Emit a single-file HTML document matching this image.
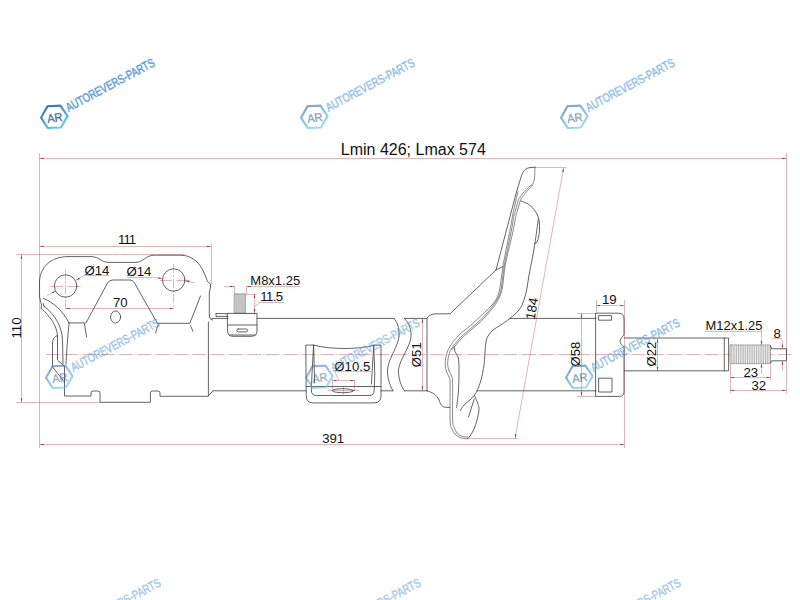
<!DOCTYPE html>
<html><head><meta charset="utf-8"><title>Shock absorber drawing</title>
<style>
html,body{margin:0;padding:0;background:#fff;}
body{width:800px;height:600px;overflow:hidden;}
svg{display:block;}
.red line{stroke:#c4606a;stroke-width:0.48;fill:none;}
.red .ah{fill:#a23848;stroke:none;}
.blk path,.blk circle,.blk ellipse,.blk rect{stroke:#3c3c3c;stroke-width:0.8;fill:none;stroke-linejoin:round;stroke-linecap:round;}
.blk .hatch{fill:#c4c4c4;stroke:#777;stroke-width:0.6;}
.blk .hatch2{fill:url(#thr);stroke:#666;stroke-width:0.5;}
.txt text{font-family:"Liberation Sans",sans-serif;fill:#111;}
.wm text{font-family:"Liberation Sans",sans-serif;}
.wm .hex{fill:none;stroke:url(#hg);stroke-width:2.1;stroke-linejoin:round;}
.wm .ar{fill:#3f6f98;stroke:#3f6f98;stroke-width:0.3;}
.wm .wt{fill:#5f9fdc;stroke:#5f9fdc;stroke-width:0.5;}
</style></head>
<body>
<svg width="800" height="600" viewBox="0 0 800 600">
<defs>
<pattern id="thr" width="1.8" height="4" patternUnits="userSpaceOnUse"><rect width="1.8" height="4" fill="#f4f4f4"/><rect width="0.8" height="4" fill="#a8a8a8"/></pattern>
<linearGradient id="hg" x1="0" y1="0" x2="0.6" y2="1"><stop offset="0" stop-color="#3c5f9c"/><stop offset="0.55" stop-color="#4a9fd6"/><stop offset="1" stop-color="#63c8ee"/></linearGradient>
</defs>
<rect width="800" height="600" fill="#fff"/>
<g class="red">
<line x1="39.5" y1="153" x2="39.5" y2="448"/>
<line x1="786.5" y1="153" x2="786.5" y2="393"/>
<line x1="39.5" y1="158.5" x2="786.4" y2="158.5"/>
<polygon class="ah" points="39.50,158.50 43.50,157.65 43.50,159.35"/>
<polygon class="ah" points="786.40,158.50 782.40,159.35 782.40,157.65"/>
<line x1="39.5" y1="444.5" x2="624.5" y2="444.5"/>
<polygon class="ah" points="39.50,444.50 43.50,443.65 43.50,445.35"/>
<polygon class="ah" points="624.50,444.50 620.50,445.35 620.50,443.65"/>
<line x1="624.5" y1="300" x2="624.5" y2="448"/>
<line x1="46" y1="354.5" x2="791.5" y2="354.5" stroke-dasharray="13.7 2 0.8 1.8"/>
<line x1="16" y1="254.5" x2="185" y2="254.5"/>
<line x1="16" y1="402.5" x2="100" y2="402.5"/>
<line x1="21.5" y1="254.4" x2="21.5" y2="402"/>
<polygon class="ah" points="21.50,254.40 22.35,258.40 20.65,258.40"/>
<polygon class="ah" points="21.50,402.20 20.65,398.20 22.35,398.20"/>
<line x1="39.5" y1="246.5" x2="211" y2="246.5"/>
<polygon class="ah" points="39.50,246.50 43.50,245.65 43.50,247.35"/>
<polygon class="ah" points="211.00,246.50 207.00,247.35 207.00,245.65"/>
<line x1="211.5" y1="243.5" x2="211.5" y2="284.5"/>
<line x1="65.5" y1="270" x2="65.5" y2="309" stroke-dasharray="9 2 2 2"/>
<line x1="50" y1="286.5" x2="82" y2="286.5" stroke-dasharray="13 4.5 13 2"/>
<line x1="173.5" y1="264" x2="173.5" y2="309" stroke-dasharray="9 2 2 2"/>
<line x1="160" y1="280.5" x2="190" y2="280.5" stroke-dasharray="12 4.5 13 2"/>
<line x1="65.6" y1="308.5" x2="173.7" y2="308.5"/>
<polygon class="ah" points="65.60,308.50 69.60,307.65 69.60,309.35"/>
<polygon class="ah" points="173.70,308.50 169.70,309.35 169.70,307.65"/>
<line x1="85" y1="275.5" x2="109" y2="275.5"/>
<line x1="85" y1="275.2" x2="76" y2="280.2"/>
<polygon class="ah" points="76.00,280.20 79.09,277.52 79.91,279.00"/>
<line x1="47" y1="295.5" x2="56" y2="291"/>
<polygon class="ah" points="56.00,291.00 52.82,293.57 52.05,292.06"/>
<line x1="127" y1="277.5" x2="152" y2="277.5"/>
<line x1="152" y1="277" x2="162.3" y2="278.6"/>
<polygon class="ah" points="162.30,278.60 158.22,278.81 158.48,277.13"/>
<line x1="195" y1="282.6" x2="185.3" y2="281"/>
<polygon class="ah" points="185.30,281.00 189.38,280.79 189.12,282.47"/>
<line x1="234.5" y1="285.5" x2="234.5" y2="294"/>
<line x1="246.5" y1="285.5" x2="246.5" y2="294"/>
<line x1="224" y1="286.5" x2="234" y2="286.5"/>
<polygon class="ah" points="234.00,286.50 230.00,287.35 230.00,285.65"/>
<line x1="246.6" y1="286.5" x2="300" y2="286.5"/>
<polygon class="ah" points="246.60,286.50 250.60,285.65 250.60,287.35"/>
<line x1="245" y1="294.5" x2="256.5" y2="294.5"/>
<line x1="245" y1="313.5" x2="256.5" y2="313.5"/>
<line x1="254.5" y1="294" x2="254.5" y2="313"/>
<polygon class="ah" points="254.50,294.00 255.35,298.00 253.65,298.00"/>
<polygon class="ah" points="254.50,313.00 253.65,309.00 255.35,309.00"/>
<line x1="254.4" y1="307" x2="260" y2="302.6"/>
<line x1="260" y1="302.5" x2="284" y2="302.5"/>
<line x1="335" y1="371.5" x2="371" y2="371.5"/>
<line x1="335" y1="371.8" x2="338.6" y2="380.3"/>
<line x1="332.4" y1="380.5" x2="354.4" y2="380.5"/>
<polygon class="ah" points="332.40,380.50 336.40,379.65 336.40,381.35"/>
<polygon class="ah" points="354.40,380.50 350.40,381.35 350.40,379.65"/>
<line x1="332.5" y1="379" x2="332.5" y2="391"/>
<line x1="354.5" y1="379" x2="354.5" y2="391"/>
<line x1="328" y1="390.5" x2="359" y2="390.5"/>
<line x1="343.5" y1="386.5" x2="343.5" y2="394.5"/>
<line x1="422.5" y1="318.4" x2="422.5" y2="391"/>
<polygon class="ah" points="422.50,318.60 423.35,322.60 421.65,322.60"/>
<polygon class="ah" points="422.50,390.60 421.65,386.60 423.35,386.60"/>
<line x1="535" y1="167.5" x2="566.5" y2="167.5"/>
<line x1="467" y1="438.5" x2="518" y2="438.5"/>
<line x1="563.6" y1="168" x2="515" y2="438.4"/>
<polygon class="ah" points="563.60,168.00 563.73,172.09 562.06,171.79"/>
<polygon class="ah" points="515.00,438.40 514.87,434.31 516.54,434.61"/>
<line x1="596.5" y1="300" x2="596.5" y2="313"/>
<line x1="596" y1="305.5" x2="624.5" y2="305.5"/>
<polygon class="ah" points="596.00,305.50 600.00,304.65 600.00,306.35"/>
<polygon class="ah" points="624.50,305.50 620.50,306.35 620.50,304.65"/>
<line x1="577" y1="313.5" x2="596" y2="313.5"/>
<line x1="577" y1="396.5" x2="596" y2="396.5"/>
<line x1="581.5" y1="313" x2="581.5" y2="396"/>
<polygon class="ah" points="581.50,313.20 582.35,317.20 580.65,317.20"/>
<polygon class="ah" points="581.50,396.20 580.65,392.20 582.35,392.20"/>
<line x1="657.5" y1="338.5" x2="657.5" y2="371"/>
<polygon class="ah" points="657.50,338.50 658.35,342.50 656.65,342.50"/>
<polygon class="ah" points="657.50,371.00 656.65,367.00 658.35,367.00"/>
<line x1="705" y1="331.5" x2="761.5" y2="331.5"/>
<line x1="761.5" y1="331.2" x2="761.5" y2="345.2"/>
<polygon class="ah" points="761.50,345.20 760.65,341.20 762.35,341.20"/>
<line x1="761.5" y1="374" x2="761.5" y2="363.4"/>
<polygon class="ah" points="761.50,363.40 762.35,367.40 760.65,367.40"/>
<line x1="772" y1="338.5" x2="781.6" y2="338.5"/>
<line x1="781.6" y1="338.9" x2="782.5" y2="342"/>
<line x1="782.5" y1="342" x2="782.5" y2="348.8"/>
<polygon class="ah" points="782.50,348.80 781.65,344.80 783.35,344.80"/>
<line x1="782.5" y1="371" x2="782.5" y2="360.8"/>
<polygon class="ah" points="782.50,360.80 783.35,364.80 781.65,364.80"/>
<line x1="730.5" y1="364" x2="730.5" y2="393"/>
<line x1="770.5" y1="364" x2="770.5" y2="380"/>
<line x1="730" y1="377.5" x2="770.6" y2="377.5"/>
<polygon class="ah" points="730.00,377.50 734.00,376.65 734.00,378.35"/>
<polygon class="ah" points="770.60,377.50 766.60,378.35 766.60,376.65"/>
<line x1="730" y1="390.5" x2="786.4" y2="390.5"/>
<polygon class="ah" points="730.00,390.50 734.00,389.65 734.00,391.35"/>
<polygon class="ah" points="786.40,390.50 782.40,391.35 782.40,389.65"/>
</g>
<g class="blk">
<circle cx="65.6" cy="286" r="11.2"/>
<circle cx="173.7" cy="280" r="11.2"/>
<ellipse cx="115.6" cy="317" rx="5" ry="6"/>
<rect x="234.5" y="293.8" width="10.8" height="19.5" class="hatch"/>
<rect x="236.8" y="329" width="10.8" height="2.9" rx="1.4"/>
<ellipse cx="343.1" cy="390.7" rx="10.7" ry="2"/>
<path d="M518,191.5 C517.67,192.92 516.70,196.92 516,200 C515.30,203.08 514.34,207.50 513.8,210 C513.26,212.50 513.38,211.67 512.75,215 C512.12,218.33 511.46,222.50 510,230 C508.54,237.50 505.17,253.92 504,260 C502.83,266.08 503.50,263.17 503,266.5 C502.50,269.83 501.58,276.08 501,280 C500.42,283.92 500.17,287.00 499.5,290 C498.83,293.00 498.25,295.50 497,298 C495.75,300.50 494.08,302.58 492,305 C489.92,307.42 487.08,310.00 484.5,312.5 C481.92,315.00 478.92,317.75 476.5,320 C474.08,322.25 472.75,323.67 470,326 C467.25,328.33 462.83,331.33 460,334 C457.17,336.67 454.83,339.67 453,342 C451.17,344.33 449.95,346.33 449,348 C448.05,349.67 447.85,350.33 447.3,352 C446.75,353.67 446.05,355.83 445.7,358 C445.35,360.17 445.05,362.67 445.2,365 C445.35,367.33 445.88,369.83 446.6,372 C447.32,374.17 448.92,375.83 449.5,378 C450.08,380.17 450.00,378.00 450.1,385 C450.20,392.00 449.87,412.83 450.1,420 C450.33,427.17 450.68,425.67 451.5,428 C452.32,430.33 453.58,432.42 455,434 C456.42,435.58 458.00,436.70 460,437.5 C462.00,438.30 465.83,438.58 467,438.8" style="stroke-width:0.65;stroke:#4a4a4a"/>
<path d="M535,167.2 C534.92,169.00 534.83,175.28 534.5,178 C534.17,180.72 533.75,182.17 533,183.5 C532.25,184.83 531.67,184.42 530,186 C528.33,187.58 524.67,191.08 523,193 C521.33,194.92 520.78,196.33 520,197.5 C519.22,198.67 519.02,197.92 518.3,200 C517.58,202.08 516.42,207.50 515.7,210 C514.98,212.50 514.70,211.67 514,215 C513.30,218.33 512.95,222.50 511.5,230 C510.05,237.50 506.72,252.50 505.3,260 C503.88,267.50 503.67,270.33 503,275 C502.33,279.67 501.97,284.50 501.3,288 C500.63,291.50 499.97,293.67 499,296 C498.03,298.33 497.00,299.75 495.5,302 C494.00,304.25 492.58,306.42 490,309.5 C487.42,312.58 483.33,317.25 480,320.5 C476.67,323.75 473.33,326.08 470,329 C466.67,331.92 462.67,335.33 460,338 C457.33,340.67 455.55,343.00 454,345 C452.45,347.00 451.40,348.83 450.7,350 C450.00,351.17 450.22,350.67 449.8,352 C449.38,353.33 448.55,355.83 448.2,358 C447.85,360.17 447.55,362.83 447.7,365 C447.85,367.17 448.38,369.00 449.1,371 C449.82,373.00 451.42,374.67 452,377 C452.58,379.33 452.50,377.83 452.6,385 C452.70,392.17 452.37,413.00 452.6,420 C452.83,427.00 453.27,424.83 454,427 C454.73,429.17 455.67,431.47 457,433 C458.33,434.53 460.17,435.53 462,436.2 C463.83,436.87 467.00,436.87 468,437" style="stroke-width:0.65;stroke:#4a4a4a"/>
<path d="M533,184.8 C531.63,186.28 526.68,191.47 524.8,193.7 C522.92,195.93 522.42,197.15 521.7,198.2 C520.98,199.25 521.17,198.03 520.5,200 C519.83,201.97 518.45,207.50 517.7,210 C516.95,212.50 516.73,211.67 516,215 C515.27,218.33 514.92,222.50 513.3,230 C511.68,237.50 507.80,253.00 506.3,260 C504.80,267.00 504.97,267.33 504.3,272 C503.63,276.67 503.02,284.00 502.3,288 C501.58,292.00 500.97,293.55 500,296 C499.03,298.45 498.00,300.32 496.5,302.7 C495.00,305.08 493.58,307.20 491,310.3 C488.42,313.40 484.33,318.02 481,321.3 C477.67,324.58 474.33,327.05 471,330 C467.67,332.95 463.67,336.33 461,339 C458.33,341.67 456.50,344.22 455,346 C453.50,347.78 452.50,349.08 452,349.7" style="stroke-width:0.65;stroke:#4a4a4a"/>
<rect x="599" y="315.6" width="12.5" height="4.6"/>
<rect x="599" y="378.2" width="13" height="13.8"/>
<rect x="730" y="344.9" width="40.5" height="18.8" rx="0.8" class="hatch2"/>
<path d="M41,308.5 L41.5,305 L40.5,301 L39.6,297 L39.5,282 C39.8,268 50,256.6 68,256.6 L92,256.6 C99,256.6 101,262.4 108,262.4 L136,262.4 C143,262.4 146,255.2 154,255.2 L181,255.2 C191,255.2 198,262 201,267 C203.5,271 205.5,276 207.5,281.5 L210.6,284.2 L210.4,288 L209.3,292 L209.3,316 Q209.5,319.8 212.6,320.2 M208.4,322 L208.4,396"/>
<path d="M64.5,366.5 L64.5,396 L91,396 L91,393 Q91,391 93,391 L98,391 Q100,391 100,393 L100,402.3 L150.4,402.3 L150.4,393 Q150.4,391 152.4,391 L158,391 Q160,391 160,393 L160,396.3 L208,396.3 L213,390.8"/>
<path d="M69,322.9 L86,322.9 L107.5,283 Q109,280 113,280 L130,280 Q133,280 134.5,283 L157.4,323.3 L189.8,323.3 L200.5,296"/>
<path d="M158.2,324.2 L155.6,333"/>
<path d="M84.5,324 L86.6,337"/>
<path d="M190.5,325.6 L192.9,331.3"/>
<path d="M43.5,298.5 C53,302 63,311 69,322.9"/>
<path d="M44,306.5 C54,313 62,326 62.5,340 L63,364"/>
<path d="M41.3,308.5 C50,316 57,326 57.5,336 L57.5,360 L64.5,366.5"/>
<path d="M69,323 C68,335 67,345 66,364"/>
<path d="M57.3,335.5 C54,337 52.5,339 52.5,343 L52.5,367 L64.5,382"/>
<path d="M44,306.5 L43.3,303.5"/>
<path d="M212,318.4 L228,318.4 M257,318.4 L394,318.4 M404.5,318.4 L427,318.4"/>
<path d="M213,390.8 L306,390.8 M381,390.8 L393,390.8 M404.5,390.8 L427,390.8"/>
<path d="M394,318.4 C398.5,324 400,331 398.6,339 C396,350 388,360 387.5,370 C387.2,378 390,386 393,390.8"/>
<path d="M404.5,318.4 C409.5,324 411.5,330 411,337 C410,347 400,359 398.6,369 C398,378 401,386 404.5,390.8"/>
<path d="M216,313.6 L228,313.6 M216,313.6 L216,316.4 L228,316.4"/>
<path d="M227.6,313.4 L257,313.4 L257,331 Q257,336.3 251.5,336.3 L233,336.3 Q227.6,336.3 227.6,331 Z"/>
<path d="M228,325 L256.6,325"/>
<path d="M229.5,335 L255.2,335"/>
<path d="M306.2,345.1 L313.6,345.1 C330,349.6 358,349.6 373.7,345.3 L381,345.1 L381,396 Q381,402.9 374,402.9 L313,402.9 Q306.2,402.9 306.2,396 Z"/>
<path d="M313.6,345.1 L312,374 L311.3,390 Q311.3,395.5 316.5,395.5 L369.5,395.5 Q374.2,395.5 374.2,390 L374.8,374 L373.7,345.3"/>
<path d="M313.6,345.1 L314.7,383 M373.7,345.3 L371.4,384"/>
<path d="M306.2,386.5 L381,386.5"/>
<path d="M427,390.8 L427,318.4 C428,316 431,314 435,313.9 L450,313.8 L496,270 L503,266.5"/>
<path d="M427,390.8 C433,392.5 436.5,395 439,400 C440.5,404 441.5,407 445,407.2 L450,407.5"/>
<path d="M535,167.2 L530,167.6 C525.5,168.2 523,171 521.6,175.5 L520.2,180 L517,190 L496,270"/>
<path d="M521,201 C521.83,201.33 524.50,202.28 526,203 C527.50,203.72 528.67,204.22 530,205.3 C531.33,206.38 532.75,207.88 534,209.5 C535.25,211.12 536.62,212.92 537.5,215 C538.38,217.08 538.97,219.50 539.3,222 C539.63,224.50 539.62,227.50 539.5,230 C539.38,232.50 539.02,235.00 538.6,237 C538.18,239.00 537.67,240.90 537,242 C536.33,243.10 535.00,243.33 534.6,243.6"/>
<path d="M538.3,219 C537.75,223.00 536.05,236.17 535,243 C533.95,249.83 533.00,254.67 532,260 C531.00,265.33 529.83,270.33 529,275 C528.17,279.67 527.83,283.83 527,288 C526.17,292.17 525.33,296.33 524,300 C522.67,303.67 521.33,306.93 519,310 C516.67,313.07 513.17,315.82 510,318.4 C506.83,320.98 502.83,323.57 500,325.5 C497.17,327.43 495.00,328.25 493,330 C491.00,331.75 489.17,334.00 488,336 C486.83,338.00 486.50,339.33 486,342 C485.50,344.67 485.33,348.17 485,352 C484.67,355.83 484.67,360.33 484,365 C483.33,369.67 482.17,375.70 481,380 C479.83,384.30 478.08,388.30 477,390.8 C475.92,393.30 475.67,393.47 474.5,395 C473.33,396.53 471.75,398.33 470,400 C468.25,401.67 465.58,403.25 464,405 C462.42,406.75 461.08,409.58 460.5,410.5"/>
<path d="M474.5,395.5 C475.08,396.92 477.25,401.58 478,404 C478.75,406.42 479.17,407.33 479,410 C478.83,412.67 477.83,416.83 477,420 C476.17,423.17 475.17,426.33 474,429 C472.83,431.67 471.12,434.37 470,436 C468.88,437.63 467.75,438.33 467.3,438.8"/>
<path d="M474.2,399 L468.5,417"/>
<path d="M454.5,347 C454.58,347.75 454.37,349.67 455,351.5 C455.63,353.33 457.63,354.92 458.3,358 C458.97,361.08 458.97,364.67 459,370 C459.03,375.33 458.90,383.75 458.5,390 C458.10,396.25 456.92,404.58 456.6,407.5"/>
<path d="M510,318.4 L596,318.4"/>
<path d="M477,390.8 L596,390.8"/>
<path d="M596,313.2 L618.5,313.2 Q624,313.2 624,319 L624,335.2 C622,337 620.1,339 620.1,341.2 C620.1,343.5 622,345.5 624,346.9 L624,392 Q624,396.4 619.5,396.4 L596,396.4 Z"/>
<path d="M624.3,338 L728.6,338 L728.6,370.8 L624.3,370.8"/>
<path d="M724.3,338 L724.3,370.8"/>
<path d="M770.6,346 L771.6,348.8 L786.5,348.8 L786.5,360.8 L771.6,360.8 L770.6,363"/>
</g>
<g class="txt">
<text x="413.3" y="154.8" font-size="16" text-anchor="middle">Lmin 426; Lmax 574</text>
<text x="126.6" y="244.4" font-size="13.2" text-anchor="middle" letter-spacing="-0.9">111</text>
<text x="333.2" y="443.2" font-size="13.2" text-anchor="middle">391</text>
<text x="21" y="328" font-size="13.2" text-anchor="middle" transform="rotate(-90 21 328)"><tspan letter-spacing="-0.9">1</tspan>10</text>
<text x="84.5" y="274.5" font-size="13.2" text-anchor="start">Ø14</text>
<text x="126.5" y="276.4" font-size="13.2" text-anchor="start">Ø14</text>
<text x="113" y="307.2" font-size="13.2" text-anchor="start">70</text>
<text x="250.3" y="285" font-size="13" text-anchor="start">M8x1.25</text>
<text x="260.2" y="300.8" font-size="13.2" text-anchor="start" textLength="23" lengthAdjust="spacing">11.5</text>
<text x="334.3" y="371" font-size="13.2" text-anchor="start">Ø10.5</text>
<text x="420.8" y="354.7" font-size="13.2" text-anchor="middle" transform="rotate(-90 420.8 354.7)">Ø51</text>
<text x="580.3" y="354" font-size="13.2" text-anchor="middle" transform="rotate(-90 580.3 354)">Ø58</text>
<text x="655.8" y="354" font-size="13.2" text-anchor="middle" transform="rotate(-90 655.8 354)">Ø22</text>
<text x="536.3" y="309.3" font-size="13.2" text-anchor="middle" transform="rotate(-80 536.3 309.3)">184</text>
<text x="602" y="303.6" font-size="13.2" text-anchor="start">19</text>
<text x="705.6" y="329.6" font-size="12.95" text-anchor="start">M12x1.25</text>
<text x="773.5" y="337.7" font-size="13.2" text-anchor="start">8</text>
<text x="743.5" y="376.8" font-size="13.2" text-anchor="start">23</text>
<text x="751.5" y="389.5" font-size="13.2" text-anchor="start">32</text>
</g>
<g transform="translate(54.2 116.8)" class="wm" opacity="1.0">
<polygon points="-13.2,0.4 -6.3,-10.8 6.6,-11 13.4,-0.2 6.3,10.9 -6.9,10.9" class="hex" transform="rotate(-2)"/>
<text x="0.4" y="5.2" font-size="12" text-anchor="middle" textLength="15.5" lengthAdjust="spacingAndGlyphs" class="ar" transform="rotate(-8)">AR</text>
<text x="0" y="0" font-size="12.4" textLength="99" lengthAdjust="spacingAndGlyphs" class="wt" transform="translate(14.2 -4.9) rotate(-28)">AUTOREVERS-PARTS</text>
</g>
<g transform="translate(314.2 116.8)" class="wm" opacity="0.65">
<polygon points="-13.2,0.4 -6.3,-10.8 6.6,-11 13.4,-0.2 6.3,10.9 -6.9,10.9" class="hex" transform="rotate(-2)"/>
<text x="0.4" y="5.2" font-size="12" text-anchor="middle" textLength="15.5" lengthAdjust="spacingAndGlyphs" class="ar" transform="rotate(-8)">AR</text>
<text x="0" y="0" font-size="12.4" textLength="99" lengthAdjust="spacingAndGlyphs" class="wt" transform="translate(14.2 -4.9) rotate(-28)">AUTOREVERS-PARTS</text>
</g>
<g transform="translate(574.2 116.8)" class="wm" opacity="0.65">
<polygon points="-13.2,0.4 -6.3,-10.8 6.6,-11 13.4,-0.2 6.3,10.9 -6.9,10.9" class="hex" transform="rotate(-2)"/>
<text x="0.4" y="5.2" font-size="12" text-anchor="middle" textLength="15.5" lengthAdjust="spacingAndGlyphs" class="ar" transform="rotate(-8)">AR</text>
<text x="0" y="0" font-size="12.4" textLength="99" lengthAdjust="spacingAndGlyphs" class="wt" transform="translate(14.2 -4.9) rotate(-28)">AUTOREVERS-PARTS</text>
</g>
<g transform="translate(59.2 376.8)" class="wm" opacity="0.6">
<polygon points="-13.2,0.4 -6.3,-10.8 6.6,-11 13.4,-0.2 6.3,10.9 -6.9,10.9" class="hex" transform="rotate(-2)"/>
<text x="0.4" y="5.2" font-size="12" text-anchor="middle" textLength="15.5" lengthAdjust="spacingAndGlyphs" class="ar" transform="rotate(-8)">AR</text>
<text x="0" y="0" font-size="12.4" textLength="99" lengthAdjust="spacingAndGlyphs" class="wt" transform="translate(14.2 -4.9) rotate(-28)">AUTOREVERS-PARTS</text>
</g>
<g transform="translate(319.2 376.8)" class="wm" opacity="0.55">
<polygon points="-13.2,0.4 -6.3,-10.8 6.6,-11 13.4,-0.2 6.3,10.9 -6.9,10.9" class="hex" transform="rotate(-2)"/>
<text x="0.4" y="5.2" font-size="12" text-anchor="middle" textLength="15.5" lengthAdjust="spacingAndGlyphs" class="ar" transform="rotate(-8)">AR</text>
<text x="0" y="0" font-size="12.4" textLength="99" lengthAdjust="spacingAndGlyphs" class="wt" transform="translate(14.2 -4.9) rotate(-28)">AUTOREVERS-PARTS</text>
</g>
<g transform="translate(579.2 376.8)" class="wm" opacity="0.65">
<polygon points="-13.2,0.4 -6.3,-10.8 6.6,-11 13.4,-0.2 6.3,10.9 -6.9,10.9" class="hex" transform="rotate(-2)"/>
<text x="0.4" y="5.2" font-size="12" text-anchor="middle" textLength="15.5" lengthAdjust="spacingAndGlyphs" class="ar" transform="rotate(-8)">AR</text>
<text x="0" y="0" font-size="12.4" textLength="99" lengthAdjust="spacingAndGlyphs" class="wt" transform="translate(14.2 -4.9) rotate(-28)">AUTOREVERS-PARTS</text>
</g>
<g transform="translate(60.2 636.8)" class="wm" opacity="0.55">
<polygon points="-13.2,0.4 -6.3,-10.8 6.6,-11 13.4,-0.2 6.3,10.9 -6.9,10.9" class="hex" transform="rotate(-2)"/>
<text x="0.4" y="5.2" font-size="12" text-anchor="middle" textLength="15.5" lengthAdjust="spacingAndGlyphs" class="ar" transform="rotate(-8)">AR</text>
<text x="0" y="0" font-size="12.4" textLength="99" lengthAdjust="spacingAndGlyphs" class="wt" transform="translate(14.2 -4.9) rotate(-28)">AUTOREVERS-PARTS</text>
</g>
<g transform="translate(320.2 636.8)" class="wm" opacity="0.55">
<polygon points="-13.2,0.4 -6.3,-10.8 6.6,-11 13.4,-0.2 6.3,10.9 -6.9,10.9" class="hex" transform="rotate(-2)"/>
<text x="0.4" y="5.2" font-size="12" text-anchor="middle" textLength="15.5" lengthAdjust="spacingAndGlyphs" class="ar" transform="rotate(-8)">AR</text>
<text x="0" y="0" font-size="12.4" textLength="99" lengthAdjust="spacingAndGlyphs" class="wt" transform="translate(14.2 -4.9) rotate(-28)">AUTOREVERS-PARTS</text>
</g>
<g transform="translate(580.2 636.8)" class="wm" opacity="0.55">
<polygon points="-13.2,0.4 -6.3,-10.8 6.6,-11 13.4,-0.2 6.3,10.9 -6.9,10.9" class="hex" transform="rotate(-2)"/>
<text x="0.4" y="5.2" font-size="12" text-anchor="middle" textLength="15.5" lengthAdjust="spacingAndGlyphs" class="ar" transform="rotate(-8)">AR</text>
<text x="0" y="0" font-size="12.4" textLength="99" lengthAdjust="spacingAndGlyphs" class="wt" transform="translate(14.2 -4.9) rotate(-28)">AUTOREVERS-PARTS</text>
</g>
</svg>
</body></html>
